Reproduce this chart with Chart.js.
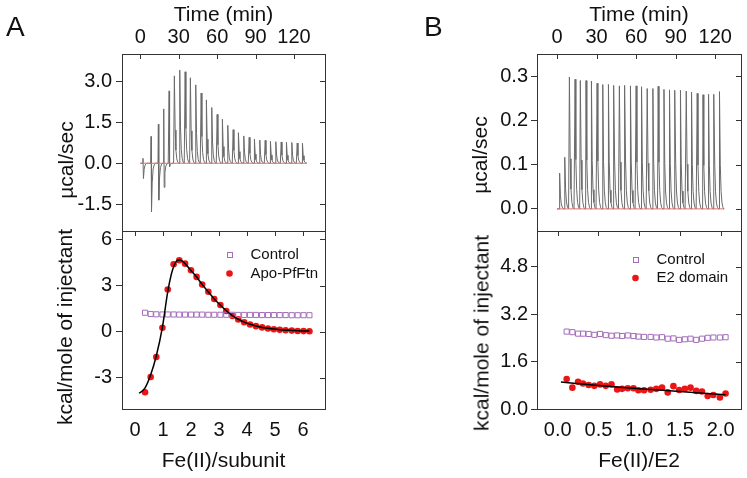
<!DOCTYPE html>
<html>
<head>
<meta charset="utf-8">
<title>ITC titrations</title>
<script src="https://cdn.jsdelivr.net/npm/chart.js@4.4.1/dist/chart.umd.min.js"></script>
<style>
  html, body { margin: 0; padding: 0; background: #fff; }
  #wrap { position: relative; width: 747px; height: 478px; overflow: hidden; font-family: "Liberation Sans", Arial, sans-serif; color: #111; }
  #wrap canvas { position: absolute; left: 0; top: 0; }
  .tag { position: absolute; font-size: 28px; line-height: 1; }
  .ytitle { position: absolute; font-size: 21px; line-height: 1; white-space: nowrap; transform: translate(-50%, -50%) rotate(-90deg); }
</style>
</head>
<body>
<div id="wrap">
  <canvas id="aTop" width="747" height="478"></canvas>
  <canvas id="aBottom" width="747" height="478"></canvas>
  <canvas id="bTop" width="747" height="478"></canvas>
  <canvas id="bBottom" width="747" height="478"></canvas>
  <div class="tag" style="left:6px; top:13px;">A</div>
  <div class="tag" style="left:424px; top:13px;">B</div>
  <div class="ytitle" style="left:65px; top:160px;">µcal/sec</div>
  <div class="ytitle" style="left:64px; top:327px;">kcal/mole of injectant</div>
  <div class="ytitle" style="left:479px; top:155px;">µcal/sec</div>
  <div class="ytitle" style="left:481px; top:333px;">kcal/mole of injectant</div>
</div>
<script>
// ---- panel A: raw heat of each injection (top) ----
const injTimeA = [2.1, 8.4, 14.1, 18.3, 22.5, 26.6, 30.8, 35.0, 39.1, 43.3, 47.5, 51.6, 55.8, 60.0, 64.1,
  68.3, 72.5, 76.6, 80.8, 85.0, 89.1, 93.3, 97.5, 101.6, 105.8, 110.0, 114.1, 118.3, 122.5, 126.6];
const peakA = [0.18, 0.98, 1.43, 1.99, 2.65, 3.20, 3.41, 3.35, 3.13, 2.87, 2.57, 2.32, 2.04, 1.79, 1.61,
  1.39, 1.23, 1.12, 1.00, 0.95, 0.88, 0.85, 0.84, 0.80, 0.79, 0.78, 0.77, 0.76, 0.74, 0.73];
const dipA = [-0.56, -1.78, -1.35, -0.88, -0.13, 0, 0, 0, 0, 0, 0, 0, 0, 0, 0,
  0, 0, 0, 0, 0, 0, 0, 0, 0, 0, 0, 0, 0, 0, 0];
const baseEndA = 129.6;

// ---- panel A: integrated heats (bottom) ----
const ratioA = [0.36, 0.56, 0.76, 0.98, 1.17, 1.38, 1.58, 1.79, 2.00, 2.20, 2.40, 2.62, 2.83, 3.05, 3.26,
  3.48, 3.69, 3.90, 4.11, 4.32, 4.54, 4.75, 4.96, 5.17, 5.38, 5.60, 5.81, 6.02, 6.23];
const heatA = [-3.93, -2.94, -1.64, 0.26, 2.74, 4.38, 4.64, 4.42, 3.99, 3.56, 3.06, 2.59, 2.12, 1.73, 1.34,
  1.02, 0.80, 0.61, 0.47, 0.36, 0.28, 0.21, 0.16, 0.12, 0.09, 0.07, 0.05, 0.04, 0.03];
const controlA = [1.23, 1.15, 1.13, 1.12, 1.12, 1.12, 1.11, 1.11, 1.11, 1.11, 1.11, 1.10, 1.10, 1.10, 1.10,
  1.10, 1.09, 1.09, 1.09, 1.09, 1.08, 1.08, 1.08, 1.08, 1.08, 1.07, 1.07, 1.07, 1.07];
const fitXA = [0.15, 0.36, 0.56, 0.76, 0.98, 1.17, 1.30, 1.40, 1.50, 1.60, 1.70, 1.79, 2.00, 2.20, 2.40, 2.62,
  2.83, 3.05, 3.26, 3.48, 3.69, 3.90, 4.11, 4.32, 4.54, 4.75, 4.96, 5.17, 5.38, 5.60, 5.81, 6.02, 6.23];
const fitYA = [-4.00, -3.65, -2.80, -1.58, 0.30, 2.60, 3.75, 4.32, 4.62, 4.66, 4.57, 4.42, 3.98, 3.55, 3.07, 2.58,
  2.13, 1.72, 1.36, 1.05, 0.81, 0.62, 0.48, 0.37, 0.28, 0.22, 0.17, 0.13, 0.10, 0.08, 0.06, 0.05, 0.04];

// ---- panel B: raw heat (top) ----
const injTimeB = [2.0, 5.3, 9.4, 13.7, 17.7, 22.0, 26.1, 30.4, 34.7, 39.0, 43.1, 47.3, 51.4, 55.7, 60.0,
  64.1, 68.4, 72.7, 76.7, 81.1, 85.3, 89.4, 93.6, 98.0, 102.0, 106.3, 110.7, 114.9, 119.0, 123.2];
const peakB = [0.081, 0.307, 0.298, 0.293, 0.290, 0.290, 0.289, 0.284, 0.281, 0.281, 0.279, 0.278, 0.279, 0.278, 0.278,
  0.276, 0.272, 0.272, 0.277, 0.270, 0.269, 0.268, 0.268, 0.266, 0.264, 0.261, 0.258, 0.259, 0.259, 0.265];
const dipB = [];
const baseEndB = 125.6;

// ---- panel B: integrated heats (bottom) ----
const ratioB = [0.11, 0.18, 0.25, 0.31, 0.38, 0.45, 0.52, 0.59, 0.66, 0.73, 0.79, 0.86, 0.93, 0.99, 1.06,
  1.14, 1.21, 1.28, 1.35, 1.42, 1.49, 1.56, 1.63, 1.70, 1.77, 1.84, 1.91, 1.99, 2.06];
const heatB = [1.01, 0.72, 0.92, 0.86, 0.81, 0.78, 0.83, 0.78, 0.83, 0.66, 0.68, 0.70, 0.70, 0.63, 0.63,
  0.65, 0.68, 0.72, 0.56, 0.77, 0.64, 0.68, 0.72, 0.61, 0.59, 0.44, 0.47, 0.39, 0.52];
const controlB = [2.61, 2.59, 2.54, 2.54, 2.53, 2.50, 2.53, 2.49, 2.47, 2.48, 2.46, 2.48, 2.46, 2.44, 2.43,
  2.43, 2.41, 2.42, 2.37, 2.38, 2.33, 2.35, 2.37, 2.33, 2.37, 2.40, 2.41, 2.41, 2.42];
const fitXB = [0.04, 0.50, 1.00, 1.50, 2.06];
const fitYB = [0.91, 0.79, 0.68, 0.59, 0.48];

// ---- tick labels ----
const timeTicks = [0, 30, 60, 90, 120];
const powerTicksA = [-1.5, 0, 1.5, 3.0];
const heatTicksA = [-3, 0, 3, 6];
const ratioTicksA = [0, 1, 2, 3, 4, 5, 6];
const powerTicksB = [0, 0.1, 0.2, 0.3];
const heatTicksB = [0, 1.6, 3.2, 4.8];
const ratioTicksB = [0, 0.5, 1.0, 1.5, 2.0];

// outline of one injection, relative to its peak: [minutes, share of peak, share of dip]
const spikeShape = [[-0.3, 0, 0], [0, 1, 0], [0.6, 0.38, 0], [1.2, 0.15, 0], [1.9, 0.05, 0], [2.7, 0.01, 0], [3.5, 0, 0]];
const dipShape = [[-0.3, 0, 0], [0, 1, 0], [0.35, 0, 1], [0.9, 0, 0.4], [1.6, 0, 0.12], [2.6, 0, 0.02], [3.5, 0, 0]];

const FONT = "'Liberation Sans', Arial, sans-serif";
Chart.defaults.font.family = FONT;
Chart.defaults.color = '#111';
Chart.defaults.animation = false;

const RED = '#ec1515';
const PURPLE = '#a46db9';

function trace(times, peaks, dips, end) {
  const pts = [{ x: 0, y: 0 }];
  times.forEach((t, i) => {
    const d = dips[i] || 0;
    const shape = d ? dipShape : spikeShape;
    shape.forEach(([dt, p, q]) => {
      const x = t + dt;
      if (x > pts[pts.length - 1].x) pts.push({ x, y: p * peaks[i] + q * d });
    });
  });
  pts.push({ x: end, y: 0 });
  return pts;
}

const pairs = (xs, ys) => xs.map((x, i) => ({ x, y: ys[i] }));
const fixedTicks = list => scale => { scale.ticks = list.map(v => ({ value: v })); };

// box around the plot + inner ticks on the top and right edges
const frame = {
  id: 'frame',
  afterDraw(chart) {
    const { ctx, chartArea: a, scales: { x, y } } = chart;
    ctx.save();
    ctx.strokeStyle = '#333';
    ctx.lineWidth = 1;
    ctx.beginPath();
    y.ticks.forEach(t => {
      const p = Math.round(y.getPixelForValue(t.value)) + 0.5;
      ctx.moveTo(a.right - 5, p);
      ctx.lineTo(a.right, p);
    });
    x.ticks.forEach(t => {
      const p = Math.round(x.getPixelForValue(t.value)) + 0.5;
      ctx.moveTo(p, a.top);
      ctx.lineTo(p, a.top + 5);
    });
    ctx.stroke();
    ctx.strokeRect(a.left + 0.5, a.top + 0.5, a.width, a.height);
    ctx.restore();
  }
};

// small legend inside the isotherm panels
const keyBox = {
  id: 'keyBox',
  afterDraw(chart, args, opts) {
    if (!opts.items) return;
    const { ctx } = chart;
    ctx.save();
    ctx.font = `15px ${FONT}`;
    ctx.textBaseline = 'middle';
    opts.items.forEach((idx, i) => {
      const ds = chart.data.datasets[idx];
      const cx = opts.x, cy = opts.y + i * opts.gap;
      ctx.lineWidth = 1;
      if (ds.pointStyle === 'rect') {
        ctx.strokeStyle = ds.borderColor;
        ctx.strokeRect(Math.round(cx - 2.5) + 0.5, Math.round(cy - 2.5) + 0.5, 5, 5);
      } else {
        ctx.fillStyle = ds.backgroundColor;
        ctx.beginPath();
        ctx.arc(cx, cy, ds.pointRadius, 0, Math.PI * 2);
        ctx.fill();
      }
      ctx.fillStyle = '#111';
      ctx.fillText(ds.label, opts.x + opts.textGap, cy);
    });
    ctx.restore();
  }
};

function yAxis(min, max, ticks, width, pad, digits) {
  return {
    min, max,
    afterBuildTicks: fixedTicks(ticks),
    afterFit: s => { s.width = width; },
    grid: { drawOnChartArea: false, drawTicks: true, tickLength: 6, color: '#333' },
    border: { display: false },
    ticks: { padding: pad, autoSkip: false, font: { size: 20 }, callback: v => v.toFixed(digits) }
  };
}

function xAxis(position, min, max, ticks, height, pad, digits, label) {
  return {
    type: 'linear', position, min, max,
    afterBuildTicks: fixedTicks(ticks),
    afterFit: s => { s.height = height; },
    grid: { display: false, drawTicks: false },
    border: { display: false },
    ticks: { padding: pad, autoSkip: false, maxRotation: 0, font: { size: 20 }, callback: v => v.toFixed(digits) },
    title: { display: true, text: label, padding: 0, font: { size: 21 } }
  };
}

function thermoChart(id, pad, line, xs, ys) {
  return new Chart(document.getElementById(id), {
    type: 'scatter',
    data: {
      datasets: [
        { data: [{ x: 0, y: 0 }, { x: line.end, y: 0 }], showLine: true, borderColor: '#e07068', borderWidth: 1, pointRadius: 0 },
        { data: line.points, showLine: true, borderColor: '#6a6a6a', borderWidth: 1, pointRadius: 0 }
      ]
    },
    options: {
      responsive: false,
      layout: { padding: pad },
      plugins: { legend: { display: false }, tooltip: { enabled: false } },
      scales: { x: xs, y: ys }
    },
    plugins: [frame]
  });
}

function isoChart(id, pad, sets, xs, ys, key) {
  return new Chart(document.getElementById(id), {
    type: 'scatter',
    data: {
      datasets: [
        { label: 'fit', data: sets.fit, showLine: true, cubicInterpolationMode: 'monotone', borderColor: '#000', borderWidth: 1.5, pointRadius: 0 },
        { label: 'Control', data: sets.control, pointStyle: 'rect', pointRadius: 3.6, borderWidth: 1, borderColor: PURPLE, backgroundColor: 'rgba(0,0,0,0)' },
        { label: sets.name, data: sets.sample, pointStyle: 'circle', pointRadius: 3.3, borderWidth: 0, backgroundColor: RED }
      ]
    },
    options: {
      responsive: false,
      layout: { padding: pad },
      plugins: { legend: { display: false }, tooltip: { enabled: false }, keyBox: key },
      scales: { x: xs, y: ys }
    },
    plugins: [frame, keyBox]
  });
}

// ---- A ----
thermoChart('aTop', { left: 53, top: 3, right: 422, bottom: 247 },
  { points: trace(injTimeA, peakA, dipA, baseEndA), end: baseEndA },
  xAxis('top', -14.29, 144.2, timeTicks, 51, 5, 0, 'Time (min)'),
  yAxis(-2.48, 4.0, powerTicksA, 69, 4, 1));

isoChart('aBottom', { left: 52, top: 231, right: 422, bottom: 4 },
  { fit: pairs(fitXA, fitYA), control: pairs(ratioA, controlA), sample: pairs(ratioA, heatA), name: 'Apo-PfFtn' },
  xAxis('bottom', -0.464, 6.786, ratioTicksA, 65, 9, 0, 'Fe(II)/subunit'),
  yAxis(-5.02, 6.54, heatTicksA, 70, 4, 0),
  { items: [1, 2], x: 229.5, y: 254.5, gap: 19, textGap: 21 });

// ---- B ----
thermoChart('bTop', { left: 467, top: 3, right: 6, bottom: 247 },
  { points: trace(injTimeB, peakB, dipB, baseEndB), end: baseEndB },
  xAxis('top', -15.16, 139.5, timeTicks, 51, 5, 0, 'Time (min)'),
  yAxis(-0.05, 0.35, powerTicksB, 70, 3, 1));

isoChart('bBottom', { left: 468, top: 231, right: 6, bottom: 4 },
  { fit: pairs(fitXB, fitYB), control: pairs(ratioB, controlB), sample: pairs(ratioB, heatB), name: 'E2 domain' },
  xAxis('bottom', -0.254, 2.249, ratioTicksB, 65, 9, 1, 'Fe(II)/E2'),
  yAxis(0, 6.0, heatTicksB, 69, 3, 1),
  { items: [1, 2], x: 635.5, y: 259.5, gap: 18.5, textGap: 21 });
</script>
</body>
</html>
